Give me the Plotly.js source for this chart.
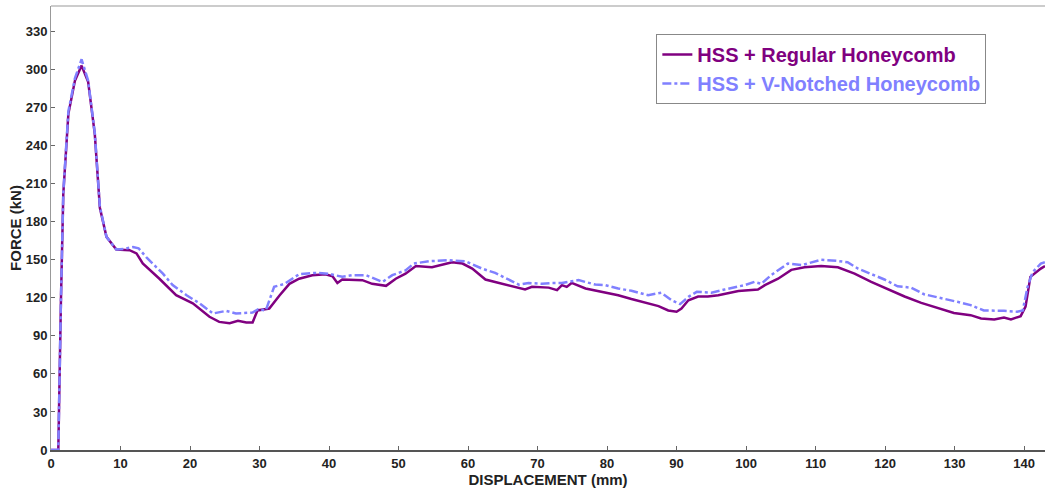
<!DOCTYPE html>
<html>
<head>
<meta charset="utf-8">
<script src="https://cdn.plot.ly/plotly-3.0.1.min.js"></script>
<style>
html,body{margin:0;padding:0;background:#fff;}
#chart{width:1045px;height:488px;}
</style>
</head>
<body>
<div id="chart"></div>
<script>
// Displacement (mm) and force (kN)
const regularX = [0,1.0,1.05,1.43,1.77,2.5,3.44,4.4,5.35,6.3,7.03,7.98,9.4,11.3,12.3,13.2,15.6,18,20.4,22.8,24.2,25.7,26.9,28.1,29,29.7,31.4,32.9,34.3,35.7,37.6,39.5,40.5,41.2,41.9,44.8,46.2,48.2,49.6,51,52.5,54.8,56.3,57.7,59.2,60.6,62.5,64.4,66.3,68.2,69.2,71.6,72.8,73.5,74.2,74.9,76.9,78.8,79.7,81.6,83.5,85.5,87.4,88.8,90,90.7,91.7,93.1,94.5,96,98.9,101.7,102.7,104.6,106.5,108.4,110.8,113.2,115.6,118,120.4,122.8,125.2,127.5,129.9,132.3,133.8,135.7,137.1,138.1,139.5,140.2,140.9,142.4,143];
const regularY = [0,0,0,118,202,265,291,303,290,249,191,168,158,157.5,155,147,135,122,115.6,105,101,100,101.8,100.5,100.5,110,111.5,122,131,135,137.8,138.6,137,131.7,134.4,133.9,131,129.4,135,139,145,144,146,148,147,143,134.4,131.7,129,126.5,128.6,128,126,130,128.6,131.7,127.3,125,124,122,119,116,113.4,110,109,111.5,118,121,121,122,125.4,126.5,130,135,142,144,145,144,139,132.5,126.5,121,116,112.3,108,106.3,103.7,102.9,104.5,103,105.5,113,136.5,143,145];

const notchedX = [0,1.05,1.43,1.77,2.5,3.44,4.4,5.35,6.3,7.03,7.98,9.4,10.5,11.8,12.6,13.7,16.1,17.5,19.5,21.4,23.3,25.2,26.6,29,29.8,30.9,32.1,33.6,35.7,38.1,39.9,41.9,43.4,45.3,47.7,49.1,51,52.2,54.4,57.2,59.6,62,63.9,65.8,67.3,68.7,70.6,72.1,73.5,75.9,78.3,79.7,81.6,83.5,85.9,87.8,89.3,90.5,91.7,92.9,95,96.9,99.8,101.2,102.2,103.6,106,108,110.8,113.2,114.6,116.1,118,119.9,121.8,123.7,125.6,128.5,130.4,132.3,134.2,137.1,139,139.8,140.5,141.2,142.4,143];
const notchedY = [0,0,118,203,267,293,308,291,250,192,168,158,158.5,160,159,152,139,130,122,115.5,107.6,109.7,107.6,108.4,111,110,128.6,131,138.6,139.6,139,136.5,137.8,137.8,132.5,137.8,141.6,147,148.8,149.6,148.8,143,139.6,134.4,130.4,131.7,131,131.7,131.7,133.9,130.4,130,127.3,125.5,122,124,118,115,120.7,124.7,124,126.5,130,132.5,131,137.8,147,145.7,150,149,148,143,139,134.4,129,128,122.8,119.4,116.8,114.2,110,109.7,109,110,128.6,140,147,148];

const seriesNames = ['HSS + Regular Honeycomb', 'HSS + V-Notched Honeycomb'];
const xTicks = [0,10,20,30,40,50,60,70,80,90,100,110,120,130,140];
const yTicks = [0,30,60,90,120,150,180,210,240,270,300,330];

const purple = '#800080';
const blue = '#8080ff';
const fontFam = '"Liberation Sans", Arial, sans-serif';

const traces = [
  {x: regularX, y: regularY, mode: 'lines', name: '<span style="color:'+purple+'">'+seriesNames[0]+'</span>',
   line: {color: purple, width: 2.5}},
  {x: notchedX, y: notchedY, mode: 'lines', name: '<span style="color:'+blue+'">'+seriesNames[1]+'</span>',
   line: {color: blue, width: 2.5, dash: 'dashdot'}}
];

const layout = {
  width: 1045, height: 488,
  margin: {l: 51, r: 0, t: 6, b: 38},
  paper_bgcolor: '#fff', plot_bgcolor: '#fff',
  font: {family: fontFam, color: '#222'},
  showlegend: true,
  legend: {x: 0.609, y: 0.937, xanchor: 'left', yanchor: 'top',
           bgcolor: '#fff', bordercolor: '#888', borderwidth: 1,
           font: {family: fontFam, size: 20, weight: 'bold'},
           itemwidth: 30, tracegroupgap: 0},
  xaxis: {range: [0, 143], tickvals: xTicks, ticktext: xTicks.map(String),
          ticks: 'inside', ticklen: 4, tickcolor: '#666',
          showline: true, linecolor: '#555', linewidth: 2, mirror: false,
          showgrid: false, zeroline: false,
          tickfont: {family: fontFam, size: 13, weight: 'bold', color: '#222'},
          title: {text: 'DISPLACEMENT (mm)', standoff: 3,
                  font: {family: fontFam, size: 15, weight: 'bold', color: '#222'}}},
  yaxis: {range: [0, 350], tickvals: yTicks, ticktext: yTicks.map(String),
          ticks: 'inside', ticklen: 4, tickcolor: '#666',
          showline: true, linecolor: '#999', linewidth: 1, mirror: true,
          showgrid: false, zeroline: false,
          tickfont: {family: fontFam, size: 13, weight: 'bold', color: '#222'},
          title: {text: 'FORCE (kN)', standoff: 0,
                  font: {family: fontFam, size: 15, weight: 'bold', color: '#222'}}},
  shapes: [
    {type: 'line', xref: 'paper', yref: 'paper', x0: 0, x1: 1, y0: 1, y1: 1,
     line: {color: '#999', width: 1}}
  ]
};

Plotly.newPlot('chart', traces, layout, {displayModeBar: false, staticPlot: true});
</script>
</body>
</html>
